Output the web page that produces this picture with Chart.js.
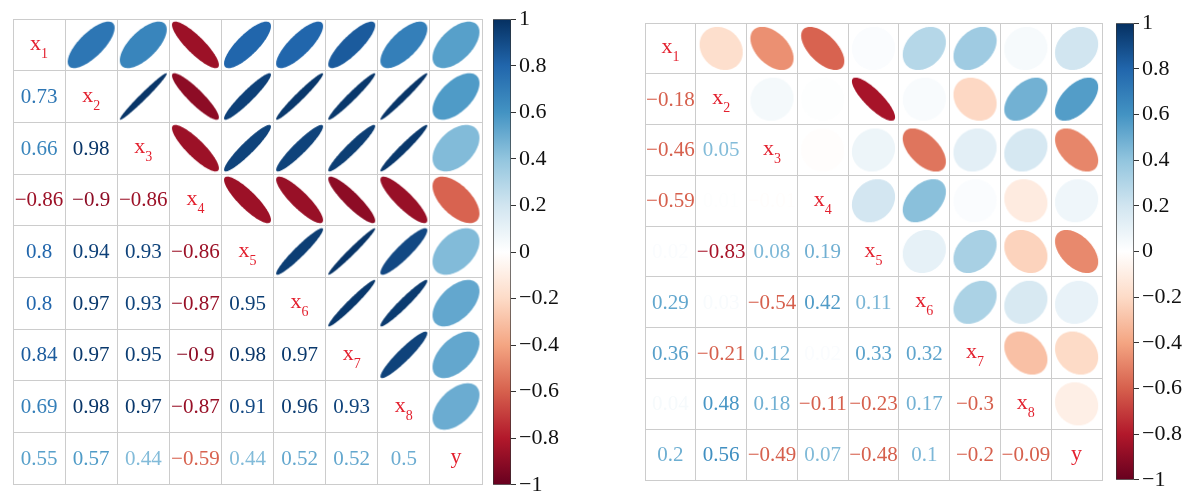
<!DOCTYPE html>
<html>
<head>
<meta charset="utf-8">
<script src="https://cdn.jsdelivr.net/npm/chart.js@4.4.0/dist/chart.umd.min.js"></script>
<style>
  body { margin: 0; background: #fff; width: 1200px; height: 497px; overflow: hidden; position: relative; }
  .box { position: absolute; }
  .warm { position: absolute; left: -500px; top: 0; font: 21px 'Liberation Serif', serif; }
</style>
</head>
<body>
<div class="warm">0.123456789 x y &#8722;</div>
<div class="box" style="left:8px;top:14px;width:479px;height:475px"><canvas id="leftMatrix"></canvas></div>
<div class="box" style="left:493px;top:3px;width:70px;height:498px"><canvas id="leftBar"></canvas></div>
<div class="box" style="left:640px;top:18px;width:467px;height:467px"><canvas id="rightMatrix"></canvas></div>
<div class="box" style="left:1116px;top:7px;width:70px;height:489px"><canvas id="rightBar"></canvas></div>
<script>
// variable names on the diagonal
const varNames = ['x1', 'x2', 'x3', 'x4', 'x5', 'x6', 'x7', 'x8', 'y'];

// lower triangles (row i holds correlations with columns 0..i-1)
const leftLower = [
  [0.73],
  [0.66, 0.98],
  [-0.86, -0.9, -0.86],
  [0.8, 0.94, 0.93, -0.86],
  [0.8, 0.97, 0.93, -0.87, 0.95],
  [0.84, 0.97, 0.95, -0.9, 0.98, 0.97],
  [0.69, 0.98, 0.97, -0.87, 0.91, 0.96, 0.93],
  [0.55, 0.57, 0.44, -0.59, 0.44, 0.52, 0.52, 0.5]
];
const rightLower = [
  [-0.18],
  [-0.46, 0.05],
  [-0.59, 0.01, -0.01],
  [0.02, -0.83, 0.08, 0.19],
  [0.29, 0.03, -0.54, 0.42, 0.11],
  [0.36, -0.21, 0.12, 0.02, 0.33, 0.32],
  [0.04, 0.48, 0.18, -0.11, -0.23, 0.17, -0.3],
  [0.2, 0.56, -0.49, 0.07, -0.48, 0.1, -0.2, -0.09]
];

// colour bar ticks
const barTicks = [1, 0.8, 0.6, 0.4, 0.2, 0, -0.2, -0.4, -0.6, -0.8, -1];

// RdBu palette, -1 .. 1
const palette = ['#67001F', '#B2182B', '#D6604D', '#F4A582', '#FDDBC7', '#FFFFFF',
                 '#D1E5F0', '#92C5DE', '#4393C3', '#2166AC', '#053061'];

const serif = "'Liberation Serif', 'Times New Roman', 'DejaVu Serif', serif";

function hexRgb(h) {
  return [parseInt(h.slice(1, 3), 16), parseInt(h.slice(3, 5), 16), parseInt(h.slice(5, 7), 16)];
}
function corrColor(v) {
  const t = Math.max(0, Math.min(10, (v + 1) * 5));
  const i = Math.min(9, Math.floor(t));
  const f = t - i;
  const a = hexRgb(palette[i]), b = hexRgb(palette[i + 1]);
  const c = a.map((x, k) => Math.round(x + (b[k] - x) * f));
  return 'rgb(' + c.join(',') + ')';
}
function fmt(v) {
  return String(Math.round(v * 100) / 100).replace('-', '\u2212');
}
// the right panel prints its numbers in stronger tones than its ellipses
function strongTone(v) {
  const a = Math.abs(v);
  if (a < 0.05) return v;
  return v > 0 ? 0.42 + 0.35 * a : -Math.max(0.6, a);
}

// ellipse shaped like corrplot's, drawn onto a cell-sized canvas
const ellCache = {};
function ellipseImage(r, w, h, s) {
  const key = [r, w.toFixed(1), h.toFixed(1), s].join('_');
  if (ellCache[key]) return ellCache[key];
  const cv = document.createElement('canvas');
  cv.width = Math.ceil(w);
  cv.height = Math.ceil(h);
  const g = cv.getContext('2d');
  const d = Math.acos(r);
  g.beginPath();
  for (let n = 0; n <= 120; n++) {
    const k = n / 120 * Math.PI * 2;
    const ex = s * Math.cos(k + d / 2) / 2;
    const ey = s * Math.cos(k - d / 2) / 2;
    const px = cv.width / 2 + ex * w, py = cv.height / 2 - ey * h;
    if (n === 0) g.moveTo(px, py); else g.lineTo(px, py);
  }
  g.closePath();
  g.fillStyle = corrColor(r);
  g.fill();
  ellCache[key] = cv;
  return cv;
}

const cellText = {
  id: 'cellText',
  afterDatasetsDraw(chart, args, opts) {
    const { ctx } = chart;
    const xs = chart.scales.x, ys = chart.scales.y;
    const n = varNames.length;
    ctx.save();
    for (let i = 0; i < n; i++) {
      const cy = ys.getPixelForValue(i + 0.5);
      for (let j = 0; j <= i; j++) {
        const cx = xs.getPixelForValue(j + 0.5);
        if (i === j) {
          const name = varNames[i];
          const main = name[0], sub = name.slice(1);
          ctx.fillStyle = '#e3202e';
          ctx.font = '22px ' + serif;
          const mw = ctx.measureText(main).width;
          ctx.font = '14px ' + serif;
          const sw = ctx.measureText(sub).width;
          const x0 = cx - (mw + sw) / 2;
          ctx.textAlign = 'left';
          ctx.textBaseline = 'alphabetic';
          ctx.font = '22px ' + serif;
          ctx.fillText(main, x0, cy + 5);
          ctx.font = '14px ' + serif;
          if (sub) ctx.fillText(sub, x0 + mw, cy + 13);
          continue;
        }
        const v = opts.lower[i - 1][j];
        ctx.fillStyle = corrColor(opts.strong ? strongTone(v) : v);
        ctx.font = '21px ' + serif;
        ctx.textAlign = 'center';
        ctx.textBaseline = 'middle';
        ctx.fillText(fmt(v), cx, cy + 1);
      }
    }
    ctx.restore();
  }
};

function makeMatrix(id, lower, strong, scale) {
  const pts = [];
  for (let i = 0; i < varNames.length; i++) {
    for (let j = i + 1; j < varNames.length; j++) {
      pts.push({ x: j + 0.5, y: i + 0.5, r: lower[j - 1][i] });
    }
  }
  const axis = (rev) => ({
    type: 'linear', min: 0, max: 9, reverse: rev,
    ticks: { display: false, stepSize: 1 },
    grid: { color: '#cccccc', drawTicks: false, lineWidth: 1 },
    border: { display: true, color: '#cccccc' }
  });
  new Chart(document.getElementById(id), {
    type: 'scatter',
    data: {
      datasets: [{
        data: pts,
        pointStyle: (c) => {
          const ch = c.chart;
          const w = ch.scales.x.getPixelForValue(1) - ch.scales.x.getPixelForValue(0);
          const h = Math.abs(ch.scales.y.getPixelForValue(1) - ch.scales.y.getPixelForValue(0));
          return ellipseImage(c.raw.r, w, h, scale);
        },
        pointRadius: 3
      }]
    },
    options: {
      responsive: true, maintainAspectRatio: false, animation: false,
      layout: { padding: 1 },
      plugins: { legend: { display: false }, tooltip: { enabled: false }, cellText: { lower, strong } },
      scales: { x: axis(false), y: axis(true) }
    },
    plugins: [cellText]
  });
}

function makeBar(id) {
  new Chart(document.getElementById(id), {
    type: 'bar',
    data: {
      labels: [''],
      datasets: [{
        data: [[-1, 1]],
        backgroundColor: (c) => {
          const area = c.chart.chartArea;
          if (!area) return '#fff';
          const g = c.chart.ctx.createLinearGradient(0, area.bottom, 0, area.top);
          palette.forEach((p, k) => g.addColorStop(k / 10, p));
          return g;
        },
        borderColor: '#333', borderWidth: 1, borderSkipped: false,
        barPercentage: 1, categoryPercentage: 1
      }]
    },
    options: {
      responsive: true, maintainAspectRatio: false, animation: false,
      layout: { padding: { top: 12, bottom: 12, left: 0, right: 0 } },
      plugins: { legend: { display: false }, tooltip: { enabled: false } },
      scales: {
        x: { display: false },
        y: {
          position: 'right', min: -1, max: 1,
          afterBuildTicks: (s) => { s.ticks = barTicks.map(v => ({ value: v })); },
          afterFit: (s) => { s.width = 52; },
          ticks: {
            callback: (v) => String(Math.round(v * 10) / 10).replace('-', '\u2212'),
            font: { family: serif, size: 22 }, color: '#111', padding: 3
          },
          grid: { drawOnChartArea: false, tickLength: 5, color: '#333' },
          border: { display: false }
        }
      }
    }
  });
}

function build() {
  makeMatrix('leftMatrix', leftLower, false, 0.9);
  makeBar('leftBar');
  makeMatrix('rightMatrix', rightLower, true, 0.85);
  makeBar('rightBar');
}

Promise.all([
  document.fonts.load("21px 'Liberation Serif'"),
  document.fonts.ready
]).then(build, build);
</script>
</body>
</html>
